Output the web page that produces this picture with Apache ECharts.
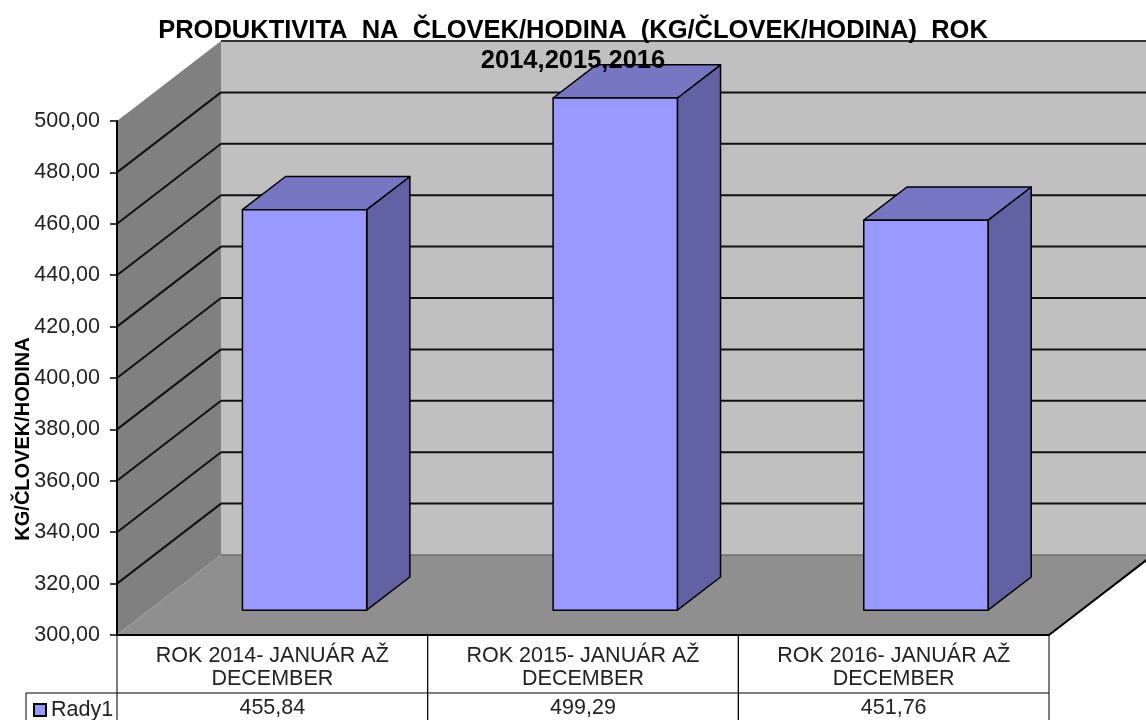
<!DOCTYPE html>
<html>
<head>
<meta charset="utf-8">
<title>Produktivita na človek/hodina</title>
<script src="https://cdn.jsdelivr.net/npm/echarts@6/dist/echarts.min.js"></script>
<style>
    html, body { margin: 0; padding: 0; background: #fff; }
    #chart { width: 1146px; height: 720px; }
</style>
</head>
<body>
<div id="chart"></div>
<script>
    var categories = [
        'ROK 2014- JANUÁR AŽ\nDECEMBER',
        'ROK 2015- JANUÁR AŽ\nDECEMBER',
        'ROK 2016- JANUÁR AŽ\nDECEMBER'
    ];
    var values = [455.84, 499.29, 451.76];
    var seriesName = 'Rady1';
    var yTicks = [300, 320, 340, 360, 380, 400, 420, 440, 460, 480, 500];

    var FONT = '"Liberation Sans", Arial, sans-serif';
    // depth of the 3d box, from the front plane to the back wall
    var depthX = 104, depthY = -80;
    var barFront = 0.31, barDepth = 0.415;

    function fmt(v) {
        return v.toFixed(2).replace('.', ',');
    }

    var chart = echarts.init(document.getElementById('chart'), null, {renderer: 'canvas'});

    function renderWalls(params, api) {
        var cs = params.coordSys;
        var x0 = cs.x, x1 = cs.x + cs.width;
        var yTop = api.coord([0, yTicks[yTicks.length - 1]])[1];
        var yBot = api.coord([0, yTicks[0]])[1];
        return {
            type: 'group',
            children: [
                {type: 'polygon', shape: {points: [[x0 + depthX, yTop + depthY], [x1 + depthX, yTop + depthY], [x1 + depthX, yBot + depthY], [x0 + depthX, yBot + depthY]]}, style: {fill: '#c0c0c0'}},
                {type: 'polygon', shape: {points: [[x0, yTop], [x0 + depthX, yTop + depthY], [x0 + depthX, yBot + depthY], [x0, yBot]]}, style: {fill: '#808080'}},
                {type: 'polygon', shape: {points: [[x0, yBot], [x1, yBot], [x1 + depthX, yBot + depthY], [x0 + depthX, yBot + depthY]]}, style: {fill: '#8f8f8f'}},
                {type: 'line', shape: {x1: x0, y1: yBot, x2: x0 + depthX, y2: yBot + depthY}, style: {stroke: '#a0a0a0', lineWidth: 1}},
                {type: 'line', shape: {x1: x1, y1: yBot, x2: x1 + depthX, y2: yBot + depthY}, style: {stroke: '#000', lineWidth: 2}}
            ]
        };
    }

    function renderGrid(params, api) {
        var cs = params.coordSys;
        var x0 = cs.x, x1 = cs.x + cs.width;
        var v = api.value(1);
        var y = api.coord([0, v])[1];
        var first = v === yTicks[0], last = v === yTicks[yTicks.length - 1];
        var children = [{
            type: 'line',
            shape: {x1: x0 + depthX, y1: y + depthY, x2: x1 + depthX, y2: y + depthY},
            style: {stroke: first ? '#555' : (last ? '#333' : '#111'), lineWidth: first ? 1 : 2}
        }];
        if (!first && !last) {
            children.push({
                type: 'line',
                shape: {x1: x0, y1: y, x2: x0 + depthX, y2: y + depthY},
                style: {stroke: '#111', lineWidth: 2}
            });
        }
        return {type: 'group', children: children};
    }

    function renderBar(params, api) {
        var i = api.value(0), v = api.value(1);
        var top = api.coord([i, v]);
        var base = api.coord([i, yTicks[0]]);
        var w = api.size([1, 0])[0] * 0.4;
        var fx = barFront * depthX, fy = barFront * depthY;
        var dx = barDepth * depthX, dy = barDepth * depthY;
        var xa = top[0] - w / 2 + fx, xb = xa + w;
        var yT = top[1] + fy, yB = base[1] + fy;
        var edge = {stroke: '#000', lineWidth: 1.5, lineJoin: 'round'};
        return {
            type: 'group',
            children: [
                {type: 'polygon', shape: {points: [[xb, yT], [xb + dx, yT + dy], [xb + dx, yB + dy], [xb, yB]]}, style: Object.assign({fill: '#6161a3'}, edge)},
                {type: 'polygon', shape: {points: [[xa, yT], [xb, yT], [xb + dx, yT + dy], [xa + dx, yT + dy]]}, style: Object.assign({fill: '#7676c2'}, edge)},
                {type: 'rect', shape: {x: xa, y: yT, width: w, height: yB - yT}, style: Object.assign({fill: '#9999ff'}, edge)}
            ]
        };
    }

    function renderTable(params, api) {
        var i = api.value(0), v = api.value(1);
        var c = api.coord([i, yTicks[0]]);
        var band = api.size([1, 0])[0];
        var left = c[0] - band / 2, right = c[0] + band / 2;
        var yTop = c[1], yMid = c[1] + 58, yEnd = 722;
        var line = {stroke: '#000', lineWidth: 1};
        var children = [
            {type: 'line', shape: {x1: left, y1: yTop, x2: left, y2: yEnd}, style: line},
            {type: 'line', shape: {x1: right, y1: yTop, x2: right, y2: yEnd}, style: line},
            {type: 'line', shape: {x1: left, y1: yMid, x2: right, y2: yMid}, style: line},
            {type: 'text', style: {text: categories[i], x: c[0], y: yTop + 33, align: 'center', verticalAlign: 'middle', font: '21.5px ' + FONT, lineHeight: 23, fill: '#222'}},
            {type: 'text', style: {text: fmt(v), x: c[0], y: yMid + 15, align: 'center', verticalAlign: 'middle', font: '21.5px ' + FONT, fill: '#222'}}
        ];
        if (i === 0) {
            children.push(
                {type: 'line', shape: {x1: 26, y1: yMid, x2: left, y2: yMid}, style: line},
                {type: 'line', shape: {x1: 26, y1: yMid, x2: 26, y2: yEnd}, style: line}
            );
        }
        return {type: 'group', children: children};
    }

    var barData = values.map(function (v, i) { return [i, v]; });

    var option = {
        animation: false,
        backgroundColor: '#fff',
        title: {
            text: 'PRODUKTIVITA  NA  ČLOVEK/HODINA  (KG/ČLOVEK/HODINA)  ROK\n2014,2015,2016',
            left: 'center',
            top: 11,
            textStyle: {fontFamily: FONT, fontSize: 25.5, fontWeight: 'bold', color: '#000', lineHeight: 30}
        },
        legend: {
            data: [seriesName],
            left: 28,
            top: 694,
            icon: 'rect',
            itemWidth: 12,
            itemHeight: 12,
            itemStyle: {borderColor: '#000', borderWidth: 2},
            textStyle: {fontFamily: FONT, fontSize: 21.5, color: '#222'}
        },
        graphic: [{
            type: 'text',
            x: 23,
            y: 439,
            rotation: Math.PI / 2,
            style: {text: 'KG/ČLOVEK/HODINA', font: 'bold 20px ' + FONT, align: 'center', verticalAlign: 'middle', fill: '#000'}
        }],
        grid: {left: 117, top: 121, width: 932, height: 514, outerBoundsMode: 'none'},
        xAxis: {
            type: 'category',
            data: categories,
            z: 5,
            axisLabel: {show: false},
            axisTick: {show: false},
            axisLine: {lineStyle: {color: '#000', width: 2}}
        },
        yAxis: {
            type: 'value',
            min: 300,
            max: 500,
            interval: 20,
            z: 5,
            splitLine: {show: false},
            axisLine: {show: true, lineStyle: {color: '#000', width: 2}},
            axisTick: {show: true, length: 7, lineStyle: {color: '#000', width: 1.5}},
            axisLabel: {margin: 17, fontFamily: FONT, fontSize: 21.5, color: '#222', formatter: fmt}
        },
        series: [
            {type: 'custom', name: 'walls', renderItem: renderWalls, data: [[0, yTicks[0]]], encode: {x: 0, y: 1}, silent: true, z: 1},
            {type: 'custom', name: 'grid', renderItem: renderGrid, data: yTicks.map(function (v) { return [0, v]; }), encode: {x: 0, y: 1}, silent: true, z: 1},
            {type: 'custom', name: seriesName, renderItem: renderBar, data: barData, encode: {x: 0, y: 1}, itemStyle: {color: '#9999ff'}, z: 2},
            {type: 'custom', name: 'table', renderItem: renderTable, data: barData, encode: {x: 0, y: 1}, silent: true, z: 3}
        ]
    };

    chart.setOption(option);
</script>
</body>
</html>
